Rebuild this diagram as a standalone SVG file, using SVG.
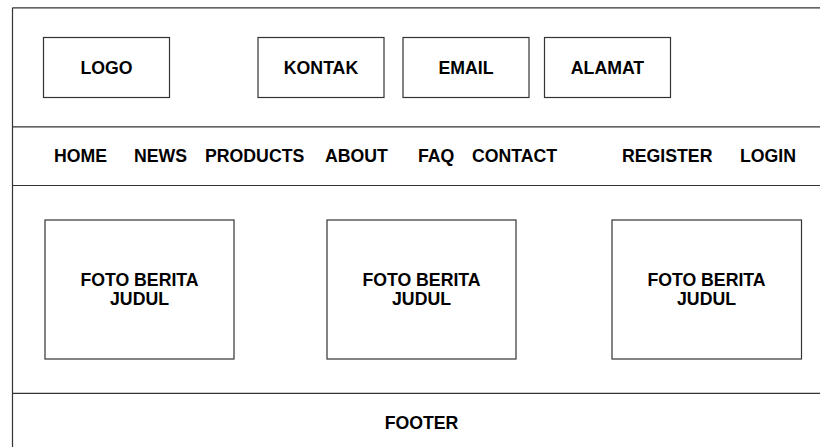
<svg xmlns="http://www.w3.org/2000/svg" width="820" height="447" viewBox="0 0 820 447">
<style>
.ln{stroke:#333;stroke-width:1.2;fill:none}
.bx{stroke:#333;stroke-width:1.2;fill:#fff}
text{font-family:"Liberation Sans",Arial,sans-serif;font-weight:bold;font-size:17.7px;fill:#000}
.c{text-anchor:middle}
</style>
<rect width="820" height="447" fill="#fff"/>
<g id="frame">
<line class="ln" x1="12.5" y1="7.8" x2="820" y2="7.8"/>
<line class="ln" x1="12.5" y1="7.8" x2="12.5" y2="447"/>
<line class="ln" x1="12.5" y1="126.8" x2="820" y2="126.8"/>
<line class="ln" x1="12.5" y1="185.5" x2="820" y2="185.5"/>
<line class="ln" x1="12.5" y1="393.3" x2="820" y2="393.3"/>
</g>
<g id="logo"><rect class="bx" x="43.5" y="37.5" width="126" height="60"/><text class="c" x="106.5" y="73.5">LOGO</text></g>
<g id="kontak"><rect class="bx" x="258" y="37.5" width="126" height="60"/><text class="c" x="321" y="73.5">KONTAK</text></g>
<g id="email"><rect class="bx" x="403" y="37.5" width="126" height="60"/><text class="c" x="466" y="73.5">EMAIL</text></g>
<g id="alamat"><rect class="bx" x="544.5" y="37.5" width="126" height="60"/><text class="c" x="607.5" y="73.5">ALAMAT</text></g>
<g id="nav">
<text x="54" y="161.5">HOME</text>
<text x="134" y="161.5">NEWS</text>
<text x="205" y="161.5">PRODUCTS</text>
<text x="325" y="161.5">ABOUT</text>
<text x="418" y="161.5">FAQ</text>
<text x="472" y="161.5">CONTACT</text>
<text x="622" y="161.5">REGISTER</text>
<text x="740" y="161.5">LOGIN</text>
</g>
<g id="berita1"><rect class="bx" x="45" y="220" width="189" height="139"/><text class="c" x="139.5" y="285.5">FOTO BERITA</text><text class="c" x="139.5" y="304.5">JUDUL</text></g>
<g id="berita2"><rect class="bx" x="327" y="220" width="189" height="139"/><text class="c" x="421.5" y="285.5">FOTO BERITA</text><text class="c" x="421.5" y="304.5">JUDUL</text></g>
<g id="berita3"><rect class="bx" x="612" y="220" width="189.5" height="139"/><text class="c" x="706.5" y="285.5">FOTO BERITA</text><text class="c" x="706.5" y="304.5">JUDUL</text></g>
<g id="footer"><text class="c" x="421.5" y="428.5">FOOTER</text></g>
</svg>
